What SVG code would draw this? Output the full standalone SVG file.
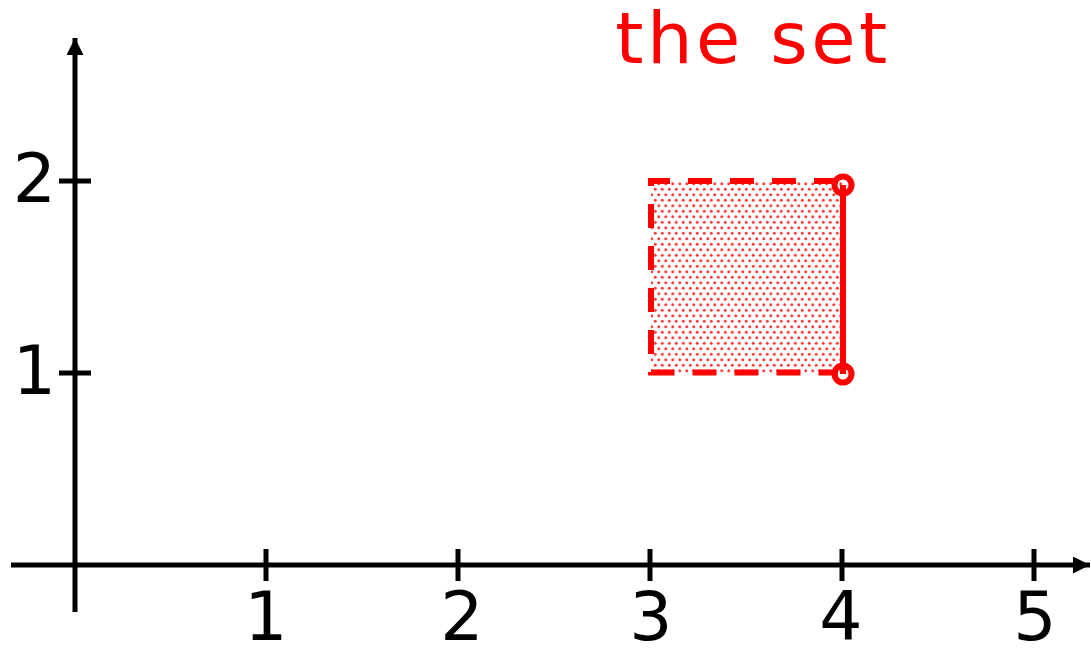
<svg xmlns="http://www.w3.org/2000/svg" width="1091" height="649" viewBox="0 0 1091 649">
<style>
.ax{stroke:#000;stroke-width:5;fill:none}
.lbl{font-family:"DejaVu Sans",sans-serif;font-size:68px;fill:#000}
.red{stroke:#ff0000;stroke-width:6;fill:none}
.dash{stroke-dasharray:24 18}
</style>
<defs>
<pattern id="dots" x="650" y="181" width="7" height="11" patternUnits="userSpaceOnUse">
<circle cx="1.75" cy="2.75" r="1.5" fill="#ff0000" fill-opacity="0.75"/>
<circle cx="5.25" cy="8.25" r="1.5" fill="#ff0000" fill-opacity="0.75"/>
</pattern>
<marker id="arr" viewBox="0 0 10 10" refX="10" refY="5" markerWidth="3.4" markerHeight="3.4" orient="auto" markerUnits="strokeWidth">
<path d="M0,0 L10,5 L0,10 Z" fill="#000"/>
</marker>
</defs>
<rect width="1091" height="649" fill="#fff"/>
<g id="axes">
<line class="ax" x1="11" y1="565" x2="1090" y2="565" marker-end="url(#arr)"/>
<line class="ax" x1="75" y1="612" x2="75" y2="38" marker-end="url(#arr)"/>
<line class="ax" x1="266" y1="549" x2="266" y2="581"/>
<line class="ax" x1="458" y1="549" x2="458" y2="581"/>
<line class="ax" x1="650" y1="549" x2="650" y2="581"/>
<line class="ax" x1="842" y1="549" x2="842" y2="581"/>
<line class="ax" x1="1034" y1="549" x2="1034" y2="581"/>
<line class="ax" x1="59" y1="181" x2="91" y2="181"/>
<line class="ax" x1="59" y1="373" x2="91" y2="373"/>
</g>
<g id="labels">
<text class="lbl" x="266" y="640" text-anchor="middle">1</text>
<text class="lbl" x="462" y="640" text-anchor="middle">2</text>
<text class="lbl" x="651" y="640" text-anchor="middle">3</text>
<text class="lbl" x="841" y="640" text-anchor="middle">4</text>
<text class="lbl" x="1035" y="640" text-anchor="middle">5</text>
<text class="lbl" x="56" y="202" text-anchor="end">2</text>
<text class="lbl" x="56" y="394" text-anchor="end">1</text>
</g>
<g id="set">
<rect x="651" y="181" width="192" height="192" fill="url(#dots)"/>
<path class="red dash" d="M838,181 L651,181 L651,372.5 L838,372.5"/>
<line class="red" x1="843" y1="185" x2="843" y2="374"/>
<circle class="red" cx="843" cy="185" r="8.5" fill="#fff"/>
<circle class="red" cx="843" cy="374" r="8.5" fill="#fff"/>
<text x="753" y="63" text-anchor="middle" font-family="DejaVu Sans, sans-serif" font-size="72" letter-spacing="3.5" fill="#ff0000">the set</text>
</g>
</svg>
